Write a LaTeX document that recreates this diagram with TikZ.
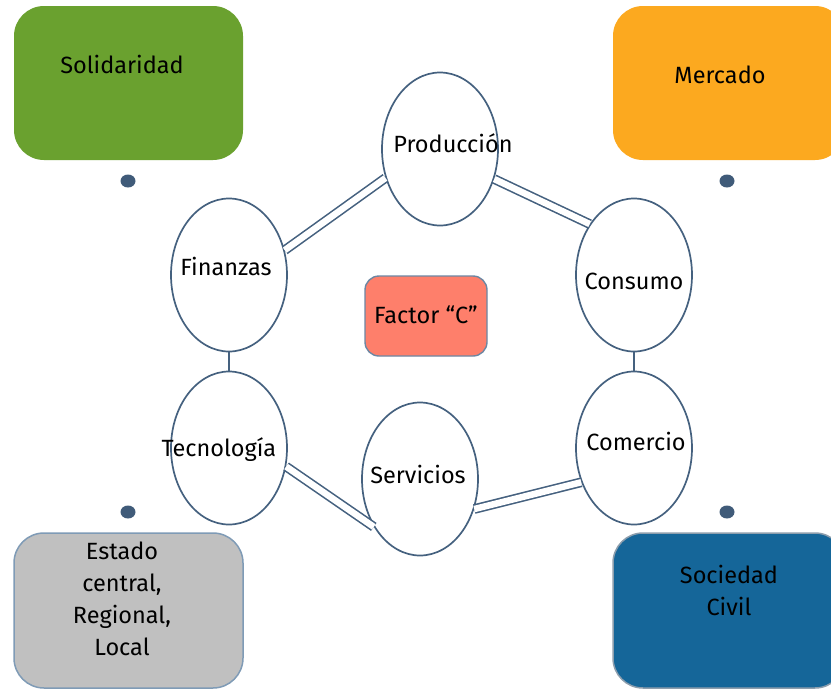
\documentclass[tikz,border=0pt]{standalone}
\usepackage{fontspec}
\setmainfont{Fira Sans}
\usetikzlibrary{shapes.geometric}
\definecolor{edgec}{HTML}{45617F}
\definecolor{dotc}{HTML}{405B79}
\definecolor{solgreen}{HTML}{6AA12F}
\definecolor{merc}{HTML}{FCA91F}
\definecolor{estgray}{HTML}{C0C0C0}
\definecolor{estborder}{HTML}{7F9BB6}
\definecolor{socblue}{HTML}{156699}
\definecolor{socborder}{HTML}{8D9EAD}
\definecolor{salmon}{HTML}{FE7F6B}
\definecolor{factborder}{HTML}{6C87A3}
\tikzset{
  bigbox/.style={rectangle, rounded corners=30pt, minimum width=229pt, minimum height=154pt, inner sep=0pt},
  circ/.style={ellipse, draw=edgec, line width=1.7pt, fill=white, minimum width=116pt, minimum height=153pt, inner sep=0pt},
  lbl/.style={inner sep=0pt, text=black, align=center},
  dbl/.style={draw=edgec, line width=1.6pt, double=white, double distance=6.5pt},
  sgl/.style={draw=edgec, line width=1.7pt},
  dotnode/.style={ellipse, fill=dotc, minimum width=15pt, minimum height=13pt, inner sep=0pt}
}
\begin{document}
\begin{tikzpicture}[x=1pt,y=-1pt,font=\fontsize{23.5}{32}\selectfont]
\useasboundingbox (0,0) rectangle (831,689);
\fill[white] (0,0) rectangle (831,689);
% corner boxes
\node[bigbox, fill=solgreen] (sol) at (128.5,83) {};
\node[lbl] (soltxt) at (122,64) {Solidaridad};
\node[bigbox, fill=merc, minimum width=232pt] (mer) at (729,83) {};
\node[lbl] (mertxt) at (720,75) {Mercado};
\node[bigbox, fill=estgray, draw=estborder, line width=1.5pt, minimum height=155pt] (est) at (128.5,610.5) {};
\node[lbl] (esttxt) at (122,599) {Estado\\central,\\Regional,\\Local};
\node[bigbox, fill=socblue, draw=socborder, line width=1.5pt, minimum width=232pt, minimum height=155pt] (soc) at (729,610.5) {};
\node[lbl] (soctxt) at (729,590) {Sociedad\\Civil};
% dots
\node[dotnode] (d1) at (128,181) {};
\node[dotnode] (d2) at (727,181) {};
\node[dotnode] (d3) at (128,512) {};
\node[dotnode] (d4) at (727,512) {};
% factor C
\node[rectangle, rounded corners=14pt, fill=salmon, draw=factborder, line width=1.4pt, minimum width=122pt, minimum height=80pt, inner sep=0pt] (fac) at (426,316) {};
\node[lbl] (factxt) at (426,315) {Factor “C”};
% ellipses
\node[circ] (prod) at (440,149) {};
\node[circ] (fin) at (229,275) {};
\node[circ] (cons) at (634,275) {};
\node[circ] (tec) at (229,448) {};
\node[circ] (serv) at (420,479) {};
\node[circ] (com) at (634,448) {};
% connectors
\draw[dbl] (prod.208) -- (fin.24);
\draw[dbl] (prod.331) -- (cons.131);
\draw[dbl] (tec.342) -- (serv.226);
\draw[dbl] (serv.331) -- (com.213);
\draw[sgl] (fin.south) -- (tec.north);
\draw[sgl] (cons.south) -- (com.north);
% labels
\node[lbl] (prodtxt) at (453,143) {Producción};
\node[lbl] (fintxt) at (226,266) {Finanzas};
\node[lbl] (constxt) at (634,281) {Consumo};
\node[lbl] (tectxt) at (219,450) {Tecnología};
\node[lbl] (servtxt) at (418,474) {Servicios};
\node[lbl] (comtxt) at (636,441) {Comercio};
\end{tikzpicture}
\end{document}
